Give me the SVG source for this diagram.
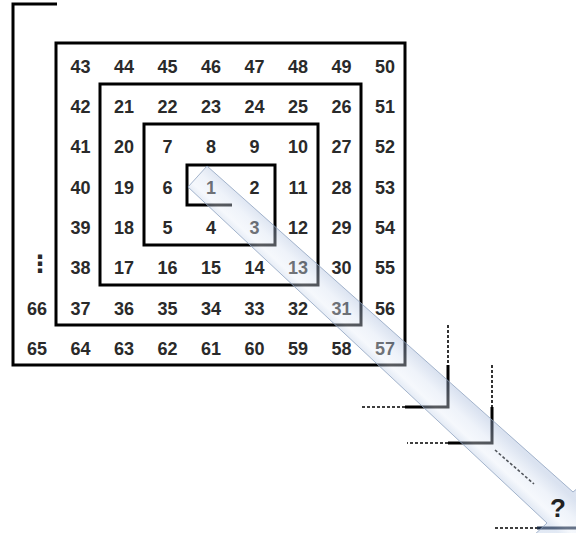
<svg xmlns="http://www.w3.org/2000/svg" width="576" height="533" viewBox="0 0 576 533">
<defs>
<style>
.n{font-family:"Liberation Sans",Arial,sans-serif;font-weight:bold;font-size:18px;fill:#2a2a2a;text-anchor:middle}
.sp{fill:none;stroke:#000;stroke-width:3;stroke-linejoin:miter}
.solid{fill:none;stroke:#000;stroke-width:3}
.dot{fill:none;stroke:#000;stroke-width:1.6;stroke-dasharray:3 2}
</style>
<linearGradient id="band" gradientUnits="userSpaceOnUse" x1="380" y1="320" x2="356" y2="346">
<stop offset="0" stop-color="#9fb4d8"/>
<stop offset="0.4" stop-color="#d4dff1"/>
<stop offset="0.75" stop-color="#e6edf8"/>
<stop offset="1" stop-color="#b3c6e3"/>
</linearGradient>
</defs>
<rect width="576" height="533" fill="#fff"/>
<g id="spiral">
<polyline class="sp" points="57,4 13,4 13,365 405,365 405,43 56,43 56,325 361,325 361,84 100,84 100,285 318,285 318,124 144,124 144,245 275,245 275,165 187,165 187,205 232,205"/>
</g>
<g id="numbers">
<text class="n" x="80.5" y="72.5">43</text><text class="n" x="124" y="72.5">44</text><text class="n" x="167.5" y="72.5">45</text><text class="n" x="211" y="72.5">46</text><text class="n" x="254.5" y="72.5">47</text><text class="n" x="298" y="72.5">48</text><text class="n" x="341.5" y="72.5">49</text><text class="n" x="385" y="72.5">50</text>
<text class="n" x="80.5" y="113">42</text><text class="n" x="124" y="113">21</text><text class="n" x="167.5" y="113">22</text><text class="n" x="211" y="113">23</text><text class="n" x="254.5" y="113">24</text><text class="n" x="298" y="113">25</text><text class="n" x="341.5" y="113">26</text><text class="n" x="385" y="113">51</text>
<text class="n" x="80.5" y="153">41</text><text class="n" x="124" y="153">20</text><text class="n" x="167.5" y="153">7</text><text class="n" x="211" y="153">8</text><text class="n" x="254.5" y="153">9</text><text class="n" x="298" y="153">10</text><text class="n" x="341.5" y="153">27</text><text class="n" x="385" y="153">52</text>
<text class="n" x="80.5" y="193.5">40</text><text class="n" x="124" y="193.5">19</text><text class="n" x="167.5" y="193.5">6</text><text class="n" x="211" y="193.5">1</text><text class="n" x="254.5" y="193.5">2</text><text class="n" x="298" y="193.5">11</text><text class="n" x="341.5" y="193.5">28</text><text class="n" x="385" y="193.5">53</text>
<text class="n" x="80.5" y="234">39</text><text class="n" x="124" y="234">18</text><text class="n" x="167.5" y="234">5</text><text class="n" x="211" y="234">4</text><text class="n" x="254.5" y="234">3</text><text class="n" x="298" y="234">12</text><text class="n" x="341.5" y="234">29</text><text class="n" x="385" y="234">54</text>
<text class="n" x="40" y="272" style="font-family:'DejaVu Sans',sans-serif;font-size:24px">⋮</text><text class="n" x="80.5" y="274">38</text><text class="n" x="124" y="274">17</text><text class="n" x="167.5" y="274">16</text><text class="n" x="211" y="274">15</text><text class="n" x="254.5" y="274">14</text><text class="n" x="298" y="274">13</text><text class="n" x="341.5" y="274">30</text><text class="n" x="385" y="274">55</text>
<text class="n" x="37" y="314.5">66</text><text class="n" x="80.5" y="314.5">37</text><text class="n" x="124" y="314.5">36</text><text class="n" x="167.5" y="314.5">35</text><text class="n" x="211" y="314.5">34</text><text class="n" x="254.5" y="314.5">33</text><text class="n" x="298" y="314.5">32</text><text class="n" x="341.5" y="314.5">31</text><text class="n" x="385" y="314.5">56</text>
<text class="n" x="37" y="354.5">65</text><text class="n" x="80.5" y="354.5">64</text><text class="n" x="124" y="354.5">63</text><text class="n" x="167.5" y="354.5">62</text><text class="n" x="211" y="354.5">61</text><text class="n" x="254.5" y="354.5">60</text><text class="n" x="298" y="354.5">59</text><text class="n" x="341.5" y="354.5">58</text><text class="n" x="385" y="354.5">57</text>
</g>
<g id="steps">
<line class="dot" x1="448" y1="325" x2="448" y2="365"/>
<polyline class="solid" points="448,365 448,407 405,407"/>
<line class="dot" x1="405" y1="407" x2="360" y2="407"/>
<line class="dot" x1="492" y1="365" x2="492" y2="407"/>
<polyline class="solid" points="492,407 492,443 448,443"/>
<line class="dot" x1="448" y1="443" x2="407" y2="443"/>
<line class="dot" x1="495" y1="450" x2="534" y2="484"/>
<line class="dot" x1="495" y1="528" x2="537" y2="528"/>
<line x1="537" y1="528" x2="576" y2="528" stroke="#1a2a44" stroke-width="3"/>
</g>
<g id="arrow">
<polygon points="207,166 573,492 586,481 602,562 532,537 547,523 188,187" fill="url(#band)" fill-opacity="0.38" stroke="#8ea2bf" stroke-width="1" stroke-opacity="0.8"/>
</g>
<g id="label">
<text x="558" y="517" style="font-family:'Liberation Sans',Arial,sans-serif;font-weight:bold;font-size:26px;fill:#222;text-anchor:middle">?</text>
</g>
</svg>
